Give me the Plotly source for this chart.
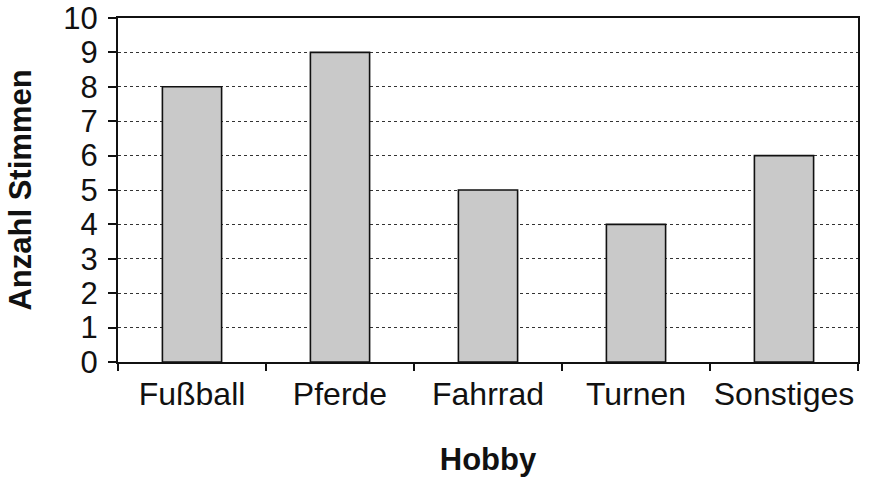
import plotly.graph_objects as go

categories = ["Fußball", "Pferde", "Fahrrad", "Turnen", "Sonstiges"]
votes = [8, 9, 5, 4, 6]
y_ticks = list(range(0, 11))

fig = go.Figure(go.Bar(
    x=categories, y=votes,
    marker=dict(color="#c9c9c9", line=dict(color="#111111", width=1.6)),
    width=0.4,
))

font_family = "Liberation Sans, Arial, sans-serif"
fig.update_layout(
    width=869, height=482,
    margin=dict(l=118, r=11, t=18, b=120),
    plot_bgcolor="white", paper_bgcolor="white",
    showlegend=False,
    font=dict(family=font_family, color="#111111"),
    xaxis=dict(
        title=dict(text="<b>Hobby</b>", font=dict(size=31, family=font_family), standoff=37),
        tickfont=dict(size=32),
        tickangle=0,
        automargin=False,
        showline=True, linecolor="#111111", linewidth=2, mirror=True,
        ticks="outside", tickson="boundaries", ticklen=7, tickwidth=1.5, tickcolor="#111111",
        ticklabelstandoff=3,
        ticklabeloverflow="allow",
        showgrid=False,
    ),
    yaxis=dict(
        title=dict(text="<b>Anzahl Stimmen</b>", font=dict(size=31, family=font_family), standoff=22),
        range=[0, 10], tickvals=y_ticks,
        tickfont=dict(size=31),
        automargin=False,
        showline=True, linecolor="#111111", linewidth=2, mirror=True,
        ticks="outside", ticklen=8, tickwidth=1.5, tickcolor="#111111",
        ticklabelstandoff=4,
        ticklabeloverflow="allow",
        showgrid=True, gridcolor="#333333", gridwidth=1.3, griddash="dot",
        zeroline=False,
    ),
)

# remove the default 8px page margin so the figure fills the 869x482 window exactly
fig.write_html(
    "out.html",
    config={"displayModeBar": False},
    post_script="document.body.style.margin='0';",
)
